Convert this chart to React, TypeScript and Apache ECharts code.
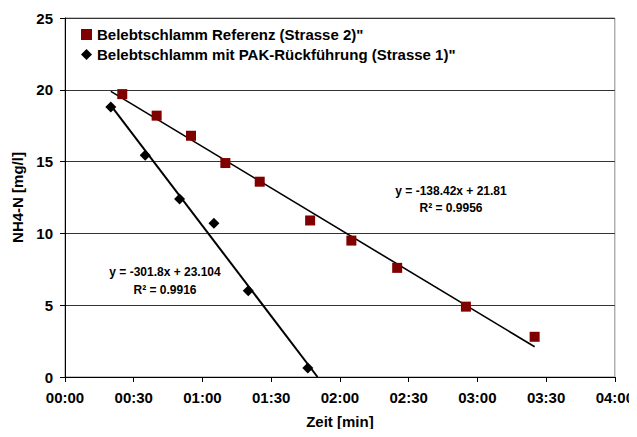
import React, { useEffect, useRef } from "react";
import * as echarts from "echarts";

const refTimes = [25, 40, 55, 70, 85, 107, 125, 145, 175, 205];
const refValues = [19.7, 18.2, 16.8, 14.9, 13.6, 10.9, 9.5, 7.6, 4.9, 2.8];
const pakTimes = [20, 35, 50, 65, 80, 106];
const pakValues = [18.8, 15.45, 12.4, 10.7, 6.0, 0.63];

// Excel trendlines (x in days) -> converted to minutes
const refTrend = { slope: -138.42, intercept: 21.81, from: 20, to: 205 };
const pakTrend = { slope: -301.8, intercept: 23.104, from: 20, to: 110.24 };

const refName = 'Belebtschlamm Referenz (Strasse 2)"';
const pakName = 'Belebtschlamm mit PAK-Rückführung (Strasse 1)"';

const trendAt = (t: { slope: number; intercept: number }, m: number) =>
  t.intercept + (t.slope / 1440) * m;

const pad = (n: number) => (n < 10 ? "0" + n : "" + n);
const fmtTime = (v: number) => pad(Math.floor(v / 60)) + ":" + pad(Math.round(v % 60));

const FONT = "Liberation Sans, Arial, sans-serif";

export default function App() {
  const ref = useRef<HTMLDivElement>(null);
  useEffect(() => {
    if (!ref.current) return;
    const chart = echarts.init(ref.current, null, { renderer: "svg" });
    chart.setOption({
      animation: false,
      backgroundColor: "#fff",
      textStyle: { fontFamily: FONT },
      grid: {
        left: 65,
        right: 22,
        top: 18,
        bottom: 60,
        show: true,
        borderColor: "#888",
        borderWidth: 1,
      },
      legend: {
        orient: "vertical",
        left: 76,
        top: 22,
        itemWidth: 11,
        itemHeight: 11,
        itemGap: 5,
        data: [
          { name: refName, icon: "rect" },
          { name: pakName, icon: "diamond" },
        ],
        textStyle: { fontSize: 15, fontWeight: "bold", color: "#000", fontFamily: FONT },
      },
      xAxis: {
        type: "value",
        min: 0,
        max: 240,
        interval: 30,
        name: "Zeit [min]",
        nameLocation: "middle",
        nameGap: 37,
        nameTextStyle: { fontSize: 15, fontWeight: "bold", color: "#000", fontFamily: FONT },
        axisLine: { show: true, lineStyle: { color: "#000", width: 1 } },
        axisTick: { show: true, length: 5, lineStyle: { color: "#000" } },
        axisLabel: {
          formatter: fmtTime,
          fontSize: 15,
          fontWeight: "bold",
          color: "#000",
          margin: 13,
          fontFamily: FONT,
        },
        splitLine: { show: false },
      },
      yAxis: {
        type: "value",
        min: 0,
        max: 25,
        interval: 5,
        name: "NH4-N [mg/l]",
        nameLocation: "middle",
        nameGap: 40,
        nameTextStyle: { fontSize: 15, fontWeight: "bold", color: "#000", fontFamily: FONT },
        axisLine: { show: true, lineStyle: { color: "#000", width: 1 } },
        axisTick: { show: true, length: 5, lineStyle: { color: "#000" } },
        axisLabel: {
          fontSize: 15,
          fontWeight: "bold",
          color: "#000",
          margin: 12,
          fontFamily: FONT,
        },
        splitLine: { show: true, lineStyle: { color: "#333", width: 1 } },
      },
      series: [
        {
          name: "refTrend",
          type: "line",
          data: [
            [refTrend.from, trendAt(refTrend, refTrend.from)],
            [refTrend.to, trendAt(refTrend, refTrend.to)],
          ],
          symbol: "none",
          lineStyle: { color: "#000", width: 1.6 },
          z: 3,
        },
        {
          name: "pakTrend",
          type: "line",
          data: [
            [pakTrend.from, trendAt(pakTrend, pakTrend.from)],
            [pakTrend.to, trendAt(pakTrend, pakTrend.to)],
          ],
          symbol: "none",
          lineStyle: { color: "#000", width: 2 },
          z: 3,
        },
        {
          name: refName,
          type: "scatter",
          symbol: "rect",
          symbolSize: 10,
          itemStyle: { color: "#800000", opacity: 1 },
          data: refTimes.map((t, i) => [t, refValues[i]]),
          z: 4,
        },
        {
          name: pakName,
          type: "scatter",
          symbol: "diamond",
          symbolSize: 11,
          itemStyle: { color: "#000", opacity: 1 },
          data: pakTimes.map((t, i) => [t, pakValues[i]]),
          z: 4,
        },
      ],
      graphic: [
        {
          type: "text",
          x: 451,
          y: 191,
          style: {
            text: "y = -138.42x + 21.81",
            font: "bold 12px " + FONT,
            fill: "#000",
            align: "center",
            verticalAlign: "middle",
          },
        },
        {
          type: "text",
          x: 451,
          y: 208,
          style: {
            text: "R² = 0.9956",
            font: "bold 12px " + FONT,
            fill: "#000",
            align: "center",
            verticalAlign: "middle",
          },
        },
        {
          type: "text",
          x: 165,
          y: 272,
          style: {
            text: "y = -301.8x + 23.104",
            font: "bold 12px " + FONT,
            fill: "#000",
            align: "center",
            verticalAlign: "middle",
          },
        },
        {
          type: "text",
          x: 165,
          y: 290,
          style: {
            text: "R² = 0.9916",
            font: "bold 12px " + FONT,
            fill: "#000",
            align: "center",
            verticalAlign: "middle",
          },
        },
      ],
    });
    return () => chart.dispose();
  }, []);
  return <div ref={ref} style={{ width: 637, height: 437, margin: -8 }} />;
}
